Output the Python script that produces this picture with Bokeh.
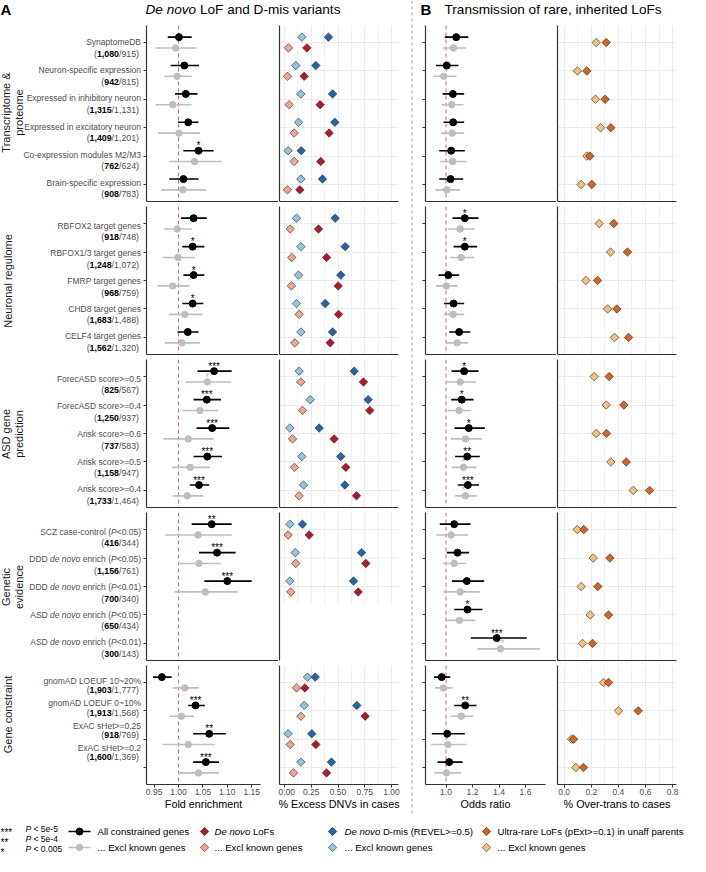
import numpy as np
from bokeh.plotting import figure
from bokeh.models import (Range1d, LinearAxis, FixedTicker, Grid, Span, ColumnDataSource,
                          NumeralTickFormatter, CustomJSTickFormatter)
from bokeh.layouts import row, column
from bokeh.embed import file_html
from bokeh.resources import INLINE
from bokeh.core.properties import value, field

nan = float("nan")

# ---------------- data ----------------
GROUPS = ["Transcriptome &\nproteome", "Neuronal regulome", "ASD gene\nprediction",
          "Genetic\nevidence", "Gene constraint"]
GROUP_SIZES = [6, 5, 5, 5, 4]
LABELS = ["SynaptomeDB", "Neuron-specific expression", "Expressed in inhibitory neuron",
          "Expressed in excitatory neuron", "Co-expression modules M2/M3", "Brain-specific expression",
          "RBFOX2 target genes", "RBFOX1/3 target genes", "FMRP target genes", "CHD8 target genes",
          "CELF4 target genes",
          "ForecASD score>=0.5", "ForecASD score>=0.4", "Arisk score>=0.6", "Arisk score>=0.5",
          "Arisk score>=0.4",
          "SCZ case-control (_P_<0.05)", "DDD _de novo_ enrich (_P_<0.05)",
          "DDD _de novo_ enrich (_P_<0.01)", "ASD _de novo_ enrich (_P_<0.05)",
          "ASD _de novo_ enrich (_P_<0.01)",
          "gnomAD LOEUF 10~20%", "gnomAD LOEUF 0~10%", "ExAC sHet>=0.25", "ExAC sHet>=0.2"]
N_ALL = ["1,080", "942", "1,315", "1,409", "762", "908",
         "918", "1,248", "968", "1,683", "1,562",
         "825", "1,250", "737", "1,158", "1,733",
         "416", "1,156", "700", "650", "300",
         "1,903", "1,913", "918", "1,600"]
N_EXCL = ["915", "815", "1,131", "1,201", "624", "783",
          "748", "1,072", "759", "1,488", "1,320",
          "567", "937", "583", "947", "1,464",
          "344", "761", "340", "434", "143",
          "1,777", "1,568", "769", "1,369"]

FE_ALL = [1.001, 1.012, 1.015, 1.020, 1.041, 1.010,
          1.031, 1.029, 1.031, 1.029, 1.019,
          1.073, 1.058, 1.069, 1.059, 1.042,
          1.068, 1.079, 1.100, nan, nan,
          0.966, 1.035, 1.063, 1.056]
FE_ALL_LO = [0.978, 0.984, 0.993, 0.999, 1.010, 0.981,
             1.005, 1.008, 1.010, 1.008, 0.998,
             1.039, 1.031, 1.037, 1.031, 1.023,
             1.027, 1.042, 1.053, nan, nan,
             0.948, 1.020, 1.030, 1.030]
FE_ALL_HI = [1.027, 1.042, 1.039, 1.041, 1.072, 1.041,
             1.058, 1.053, 1.053, 1.051, 1.041,
             1.109, 1.087, 1.104, 1.089, 1.063,
             1.109, 1.117, 1.150, nan, nan,
             0.986, 1.054, 1.097, 1.083]
FE_EXCL = [0.994, 0.997, 0.988, 1.001, 1.033, 1.009,
           0.997, 0.999, 0.988, 1.013, 1.007,
           1.059, 1.044, 1.020, 1.024, 1.018,
           1.040, 1.042, 1.055, nan, nan,
           1.013, 1.006, 1.020, 1.041]
FE_EXCL_LO = [0.953, 0.971, 0.953, 0.958, 0.981, 0.964,
              0.971, 0.967, 0.957, 0.980, 0.972,
              1.014, 1.008, 0.969, 0.986, 0.988,
              0.973, 0.999, 0.992, nan, nan,
              0.988, 0.982, 0.967, 0.999]
FE_EXCL_HI = [1.037, 1.027, 1.027, 1.044, 1.089, 1.057,
              1.027, 1.034, 1.022, 1.049, 1.044,
              1.108, 1.081, 1.072, 1.064, 1.051,
              1.109, 1.087, 1.122, nan, nan,
              1.042, 1.032, 1.075, 1.083]
FE_ALL_SIG = ["", "", "", "", "*", "",
              "", "*", "*", "*", "",
              "***", "***", "***", "***", "***",
              "**", "***", "***", "", "",
              "", "***", "**", "***"]
FE_EXCL_SIG = ["", "", "", "", "", "",
               "", "", "", "", "",
               "*", "", "", "", "",
               "", "", "", "", "",
               "", "", "", ""]

DNV_DMIS = [0.411, 0.293, 0.449, 0.470, 0.156, 0.355,
            0.474, 0.567, 0.526, 0.380, 0.449,
            0.651, 0.782, 0.324, 0.526, 0.564,
            0.168, 0.720, 0.645, nan, nan,
            0.287, 0.676, 0.255, 0.439]
DNV_DMIS_EXCL = [0.162, 0.106, 0.153, 0.131, 0.034, 0.153,
                 0.112, 0.153, 0.131, 0.112, 0.153,
                 0.137, 0.240, 0.050, 0.162, 0.178,
                 0.050, 0.100, 0.050, nan, nan,
                 0.215, 0.184, 0.034, 0.153]
DNV_LOF = [0.209, 0.184, 0.333, 0.417, 0.339, 0.143,
           0.318, 0.393, 0.502, 0.505, 0.427,
           0.738, 0.797, 0.464, 0.573, 0.673,
           0.231, 0.760, 0.689, nan, nan,
           0.190, 0.754, 0.293, 0.393]
DNV_LOF_EXCL = [0.037, 0.028, 0.044, 0.090, 0.090, 0.028,
                0.053, 0.068, 0.065, 0.137, 0.096,
                0.153, 0.168, 0.075, 0.093, 0.137,
                0.034, 0.106, 0.059, nan, nan,
                0.112, 0.153, 0.053, 0.084]

OR_ALL = [1.077, 1.006, 1.052, 1.054, 1.039, 1.034,
          1.142, 1.142, 1.017, 1.057, 1.099,
          1.137, 1.119, 1.172, 1.160, 1.165,
          1.062, 1.087, 1.157, 1.162, 1.383,
          0.968, 1.145, 1.009, 1.024]
OR_ALL_LO = [0.991, 0.923, 0.974, 0.981, 0.949, 0.949,
             1.049, 1.057, 0.943, 0.986, 1.024,
             1.042, 1.039, 1.064, 1.069, 1.089,
             0.953, 1.006, 1.044, 1.062, 1.187,
             0.911, 1.062, 0.893, 0.936]
OR_ALL_HI = [1.168, 1.094, 1.137, 1.137, 1.142, 1.130,
             1.245, 1.235, 1.100, 1.137, 1.183,
             1.245, 1.208, 1.293, 1.255, 1.250,
             1.185, 1.175, 1.288, 1.275, 1.610,
             1.032, 1.230, 1.142, 1.125]
OR_EXCL = [1.057, 0.983, 1.044, 1.047, 1.049, 1.006,
           1.107, 1.115, 1.002, 1.054, 1.085,
           1.107, 1.099, 1.147, 1.132, 1.147,
           1.039, 1.062, 1.107, 1.102, 1.411,
           0.979, 1.115, 1.014, 1.004]
OR_EXCL_LO = [0.974, 0.903, 0.964, 0.964, 0.956, 0.918,
              1.017, 1.029, 0.923, 0.981, 0.998,
              1.006, 1.011, 1.036, 1.042, 1.067,
              0.928, 0.974, 0.979, 0.998, 1.238,
              0.918, 1.036, 0.888, 0.911]
OR_EXCL_HI = [1.149, 1.079, 1.132, 1.137, 1.157, 1.104,
              1.215, 1.213, 1.087, 1.137, 1.168,
              1.225, 1.190, 1.270, 1.230, 1.232,
              1.165, 1.149, 1.255, 1.220, 1.708,
              1.049, 1.205, 1.155, 1.112]
OR_ALL_SIG = ["", "", "", "", "", "",
              "*", "*", "", "", "",
              "*", "*", "*", "**", "***",
              "", "", "", "*", "***",
              "", "**", "", ""]
OR_EXCL_SIG = ["", "", "", "", "", "",
               "", "", "", "", "",
               "", "", "", "*", "**",
               "", "", "", "", "**",
               "", "", "", ""]

TR_ALL = [0.310, 0.167, 0.302, 0.344, 0.189, 0.204,
          0.366, 0.467, 0.246, 0.388, 0.475,
          0.332, 0.440, 0.312, 0.458, 0.630,
          0.145, 0.337, 0.248, 0.327, 0.209,
          0.327, 0.546, 0.069, 0.142]
TR_EXCL = [0.236, 0.098, 0.231, 0.268, 0.167, 0.125,
           0.258, 0.342, 0.160, 0.320, 0.371,
           0.221, 0.310, 0.236, 0.344, 0.509,
           0.096, 0.214, 0.125, 0.192, 0.135,
           0.290, 0.401, 0.054, 0.086]

FE_TICKS = [0.95, 1.00, 1.05, 1.10, 1.15]
DNV_TICKS = [0.0, 0.25, 0.5, 0.75, 1.0]
DNV_MINOR = [0.125, 0.375, 0.625, 0.875]
OR_TICKS = [1.0, 1.2, 1.4, 1.6]
TR_TICKS = [0.0, 0.2, 0.4, 0.6, 0.8]
TR_MINOR = [0.1, 0.3, 0.5, 0.7]

# ---------------- style ----------------
FONT = "Liberation Sans"
TXT = "#4D4D4D"
AX = "#333333"
GREY = "#BEBEBE"
GRIDC = "#EBEBEB"
C_LOF, C_LOF_X = "#B2182B", "#EFA58F"
C_DMIS, C_DMIS_X = "#2166AC", "#92C5DE"
C_UR, C_UR_X = "#D6641E", "#F5C07A"
OFF = 0.19

_W = {}
for chars, w in [(" ,./:;!I[]ft", 278), ("ijl", 222), ("()-r", 333), ("*", 389),
                 ("cksvxyzJ", 500), ("0123456789abdeghnopqu_L", 556), ("<>=+~", 584),
                 ("FTZ", 611), ("ABEKPSVXY&", 667), ("CDHNRUw", 722), ("GOQ", 778),
                 ("mM", 833), ("%", 889), ("W", 944)]:
    for ch in chars:
        _W[ch] = w


def tw(s, size):
    return sum(_W.get(c, 556) for c in s) / 1000.0 * size


def rich(items):
    d = dict(x=[], y=[], text=[], style=[], color=[], size=[])
    for x, y, segs, size, align in items:
        widths = [tw(t, size) for t, _, _ in segs]
        total = sum(widths)
        cur = x if align == "left" else (x - total if align == "right" else x - total / 2)
        for (t, st, c), w in zip(segs, widths):
            lead = len(t) - len(t.lstrip(" "))
            tt = t.strip(" ")
            if tt:
                d["x"].append(cur + tw(" " * lead, size))
                d["y"].append(y)
                d["text"].append(tt)
                d["style"].append(st)
                d["color"].append(c)
                d["size"].append("%.2fpx" % size)
            cur += w
    return d


def draw_rich(p, items):
    src = ColumnDataSource(rich(items))
    p.text(x="x", y="y", text="text", source=src, text_font_style=field("style"),
           text_color=field("color"), text_font_size=field("size"), text_align="left",
           text_baseline="middle", text_font=value(FONT))


def mk(w, h, xr, yr, ml=0, mr=0, mt=0, mb=0):
    p = figure(width=w, height=h, x_range=xr, y_range=yr, x_axis_type=None, y_axis_type=None,
               toolbar_location=None, output_backend="svg", title=None,
               min_border_left=ml, min_border_right=mr, min_border_top=mt, min_border_bottom=mb)
    p.outline_line_color = None
    p.background_fill_color = "white"
    p.border_fill_color = "white"
    return p


def add_axis(p, side, ticks, tick_out=3, fmt=None, label=None):
    ax = LinearAxis(ticker=FixedTicker(ticks=list(ticks)))
    ax.axis_line_color = AX
    ax.axis_line_width = 1.2
    ax.major_tick_line_color = AX
    ax.major_tick_line_width = 1
    ax.major_tick_in = 0
    ax.major_tick_out = tick_out
    ax.minor_tick_line_color = None
    ax.minor_tick_in = 0
    ax.minor_tick_out = 0
    if fmt is not None:
        ax.formatter = NumeralTickFormatter(format=fmt)
        ax.major_label_text_font = FONT
        ax.major_label_text_font_size = "8.5px"
        ax.major_label_text_color = TXT
        ax.major_label_standoff = 1
        ax.axis_label = label
        ax.axis_label_text_font = FONT
        ax.axis_label_text_font_size = "10.8px"
        ax.axis_label_text_font_style = "normal"
        ax.axis_label_text_color = "black"
        ax.axis_label_standoff = 0
    else:
        ax.formatter = CustomJSTickFormatter(code="return ''")
        ax.major_label_standoff = 0
    p.add_layout(ax, side)


def add_grids(p, major, minor, n):
    p.add_layout(Grid(dimension=0, ticker=FixedTicker(ticks=major, minor_ticks=minor),
                      grid_line_color=GRIDC, grid_line_width=1,
                      minor_grid_line_color=GRIDC, minor_grid_line_width=0.7))
    p.add_layout(Grid(dimension=1, ticker=FixedTicker(ticks=list(range(n))),
                      grid_line_color=GRIDC, grid_line_width=1))


def draw_forest(p, n, sl, est, lo, hi, sig, color, size, dy):
    e = np.array(est[sl], float)
    l = np.array(lo[sl], float)
    h_ = np.array(hi[sl], float)
    ys = np.arange(n) + dy
    m = ~np.isnan(e)
    src = ColumnDataSource(dict(y=ys[m], e=e[m], l=l[m], h=h_[m]))
    p.segment(x0="l", y0="y", x1="h", y1="y", source=src, line_color=color, line_width=1.6)
    p.scatter(x="e", y="y", source=src, size=size, fill_color=color, line_color=color)
    s = list(sig[sl])
    sm = [k for k in range(n) if s[k] and m[k]]
    if sm:
        ssrc = ColumnDataSource(dict(x=[float(e[k]) for k in sm],
                                     y=[float(ys[k]) - 0.17 for k in sm],
                                     t=[s[k] for k in sm]))
        p.text(x="x", y="y", text="t", source=ssrc,
               text_align="center", text_baseline="alphabetic", text_font_size="10px",
               text_color=color, text_font=value(FONT))


def draw_diamonds(p, xs, ys, color):
    xs = np.array(xs, float)
    ys = np.array(ys, float)
    m = ~np.isnan(xs)
    p.scatter(x=xs[m], y=ys[m], marker="square", angle=np.pi / 4, size=6,
              fill_color=color, line_color="#222222", line_width=0.6)


def red_line(p):
    p.add_layout(Span(location=1.0, dimension="height", line_color="#E06666",
                      line_dash="4 3", line_width=1, level="underlay"))


# ---------------- layout geometry (px) ----------------
FE_PX, FE_LO = 488.0, 1 - 32 / 488.0
DNV_PX, DNV_LO = 107.0, -5 / 107.0
OR_PX, OR_LO = 132.5, 1 - 20.5 / 132.5
TR_PX, TR_LO = 135.5, -6.7 / 135.5
TITLE_H = 25

rowsA, rowsB = [], []
start = 0
heights = []
for g, n in enumerate(GROUP_SIZES):
    sl = slice(start, start + n)
    start += n
    last = g == len(GROUP_SIZES) - 1
    mt = 0 if g == 0 else 3
    mb = 30 if last else 2
    fh = round(28.4 * (n + 0.2))
    u = fh / (n + 0.2)
    h = mt + fh + mb
    heights.append(h)
    yr = Range1d(start=n - 0.4, end=-0.6)

    # label column
    lab = mk(142, h, Range1d(0, 142), Range1d(start=n - 0.4 + mb / u, end=-0.6 - mt / u))
    items = []
    for i in range(n):
        k = sl.start + i
        parts = LABELS[k].split("_")
        segs = [(t, "italic" if j % 2 else "normal", TXT) for j, t in enumerate(parts) if t]
        items.append((140.5, i, segs, 8.5, "right"))
        items.append((138.5, i + 0.42, [("(", "normal", TXT), (N_ALL[k], "bold", "black"),
                                         ("/" + N_EXCL[k] + ")", "normal", TXT)], 8.8, "right"))
    draw_rich(lab, items)
    gl = GROUPS[g]
    lab.text(x=[12 if "\n" in gl else 7], y=[(n - 1) / 2], text=[gl], angle=np.pi / 2,
             text_align="center", text_baseline="middle", text_font_size="11px",
             text_line_height=1.15, text_color="#1A1A1A", text_font=value(FONT))

    # forest A
    fwa = 114 if last else 132
    fa = mk(136, h, Range1d(FE_LO, FE_LO + fwa / FE_PX), yr, 4, 136 - 4 - fwa, mt, mb)
    red_line(fa)
    draw_forest(fa, n, sl, FE_EXCL, FE_EXCL_LO, FE_EXCL_HI, FE_EXCL_SIG, GREY, 6.5, OFF)
    draw_forest(fa, n, sl, FE_ALL, FE_ALL_LO, FE_ALL_HI, FE_ALL_SIG, "black", 7, -OFF)
    add_axis(fa, "left", range(n))
    if last:
        add_axis(fa, "below", FE_TICKS, 3, "0.00", "Fold enrichment")
    else:
        add_axis(fa, "below", [], 0)

    # DNV panel
    dv = mk(129, h, Range1d(DNV_LO, DNV_LO + 119 / DNV_PX), yr, 1, 9, mt, mb)
    valid = ~np.isnan(np.array(DNV_LOF[sl], float))
    if valid.all():
        add_grids(dv, DNV_TICKS, DNV_MINOR, n)
    else:
        ymax = np.max(np.nonzero(valid)[0]) + 0.63
        gx = DNV_TICKS + DNV_MINOR
        dv.segment(x0=gx, y0=[-0.6] * len(gx), x1=gx, y1=[ymax] * len(gx),
                   line_color=GRIDC, line_width=0.9, level="underlay")
        vy = list(np.nonzero(valid)[0])
        dv.segment(x0=[DNV_LO] * len(vy), y0=vy, x1=[DNV_LO + 119 / DNV_PX] * len(vy), y1=vy,
                   line_color=GRIDC, line_width=1, level="underlay")
    ys = np.arange(n)
    draw_diamonds(dv, DNV_DMIS_EXCL[sl], ys - OFF, C_DMIS_X)
    draw_diamonds(dv, DNV_DMIS[sl], ys - OFF, C_DMIS)
    draw_diamonds(dv, DNV_LOF_EXCL[sl], ys + OFF, C_LOF_X)
    draw_diamonds(dv, DNV_LOF[sl], ys + OFF, C_LOF)
    add_axis(dv, "left", [], 0)
    if last:
        add_axis(dv, "below", DNV_TICKS, 3, "0.00", "% Excess DNVs in cases")
    elif valid.all():
        add_axis(dv, "below", [], 0)

    # forest B
    fwb = 120 if last else 131
    fb = mk(139, h, Range1d(OR_LO, OR_LO + fwb / OR_PX), yr, 8, 139 - 8 - fwb, mt, mb)
    red_line(fb)
    draw_forest(fb, n, sl, OR_EXCL, OR_EXCL_LO, OR_EXCL_HI, OR_EXCL_SIG, GREY, 6.5, OFF)
    draw_forest(fb, n, sl, OR_ALL, OR_ALL_LO, OR_ALL_HI, OR_ALL_SIG, "black", 7, -OFF)
    add_axis(fb, "left", range(n))
    if last:
        add_axis(fb, "below", OR_TICKS, 3, "0.0", "Odds ratio")
    else:
        add_axis(fb, "below", [], 0)

    # transmission panel
    tr = mk(134, h, Range1d(TR_LO, TR_LO + 119 / TR_PX), yr, 1, 14, mt, mb)
    add_grids(tr, TR_TICKS, TR_MINOR, n)
    draw_diamonds(tr, TR_EXCL[sl], ys, C_UR_X)
    draw_diamonds(tr, TR_ALL[sl], ys, C_UR)
    add_axis(tr, "left", [], 0)
    if last:
        add_axis(tr, "below", TR_TICKS, 3, "0.0", "% Over-trans to cases")
    else:
        add_axis(tr, "below", [], 0)

    rowsA.append(row(lab, fa, dv))
    rowsB.append(row(fb, tr))

COL_H = TITLE_H + sum(heights)

# titles
ta = mk(407, TITLE_H, Range1d(0, 407), Range1d(start=TITLE_H, end=0))
draw_rich(ta, [(0, 9, [("A", "bold", "black")], 15, "left"),
               (145, 9, [("De novo", "italic", "black"), (" LoF and D-mis variants", "normal", "black")],
                13.6, "left")])
tb = mk(273, TITLE_H, Range1d(0, 273), Range1d(start=TITLE_H, end=0))
draw_rich(tb, [(3, 9, [("B", "bold", "black")], 15, "left"),
               (27, 9, [("Transmission of rare, inherited LoFs", "normal", "black")], 13.6, "left")])

# separator
sep = mk(10, COL_H, Range1d(0, 10), Range1d(0, 1))
sep.add_layout(Span(location=4.5, dimension="height", line_color="#9E9E9E",
                    line_dash="3 3", line_width=1))

colA = column(ta, *rowsA)
colB = column(tb, *rowsB)

# legend
LEG_H = 856 - COL_H
lg = mk(690, LEG_H, Range1d(0, 690), Range1d(start=LEG_H, end=0))
r1, r2 = 17, 33
pr = [14, 24, 34]
LS = 9.6
leg_items = []
for yy, stars, ptxt in zip(pr, ["***", "**", "*"], [" < 5e-5", " < 5e-4", " < 0.005"]):
    leg_items.append((25, yy, [("P", "italic", "black"), (ptxt, "normal", "black")], 8.5, "left"))
draw_rich(lg, leg_items)
lg.text(x=[0, 0, 0], y=[yy + 3.5 for yy in pr], text=["***", "**", "*"], text_align="left",
        text_baseline="alphabetic", text_font_size="10px", text_color="black", text_font=value(FONT))
leg2 = [
    (97, r1, [("All constrained genes", "normal", "black")], LS, "left"),
    (97, r2, [("... Excl known genes", "normal", "black")], LS, "left"),
    (214, r1, [("De novo", "italic", "black"), (" LoFs", "normal", "black")], LS, "left"),
    (214, r2, [("... Excl known genes", "normal", "black")], LS, "left"),
    (344, r1, [("De novo", "italic", "black"), (" D-mis (REVEL>=0.5)", "normal", "black")], LS, "left"),
    (344, r2, [("... Excl known genes", "normal", "black")], LS, "left"),
    (497, r1, [("Ultra-rare LoFs (pExt>=0.1) in unaff parents", "normal", "black")], LS, "left"),
    (497, r2, [("... Excl known genes", "normal", "black")], LS, "left"),
]
draw_rich(lg, leg2)
lg.segment(x0=[68, 68], y0=[r1, r2], x1=[90, 90], y1=[r1, r2], line_color=["black", GREY], line_width=1.6)
lg.scatter(x=[79, 79], y=[r1, r2], size=[7, 6.5], fill_color=["black", GREY], line_color=["black", GREY])
lg.scatter(x=[204, 204, 332, 332, 486, 486], y=[r1, r2, r1, r2, r1, r2], marker="square",
           angle=np.pi / 4, size=6, fill_color=[C_LOF, C_LOF_X, C_DMIS, C_DMIS_X, C_UR, C_UR_X],
           line_color="#222222", line_width=0.6)

layout = column(row(colA, sep, colB), lg)

open("out.html", "w").write(file_html(layout, INLINE))
